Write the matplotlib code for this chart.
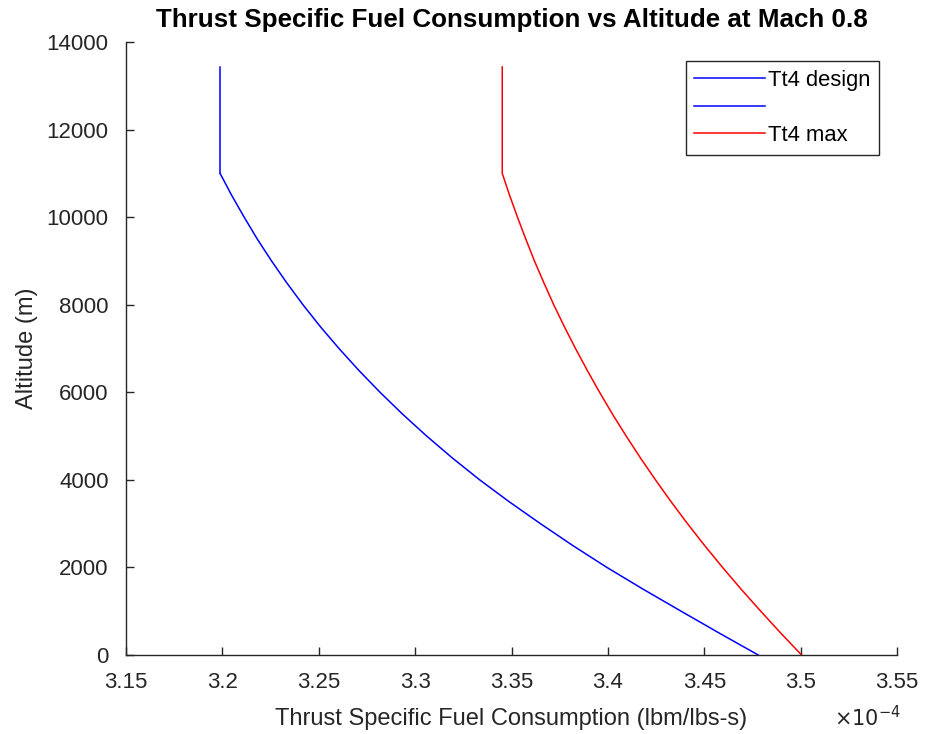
import matplotlib
matplotlib.use("Agg")
import matplotlib.pyplot as plt
from matplotlib.ticker import FuncFormatter, MultipleLocator

# altitudes in metres, TSFC in units of 1e-4 lbm/lbs-s
alt_tropo = [0, 500, 1000, 1500, 2000, 2500, 3000, 3500, 4000, 4500, 5000, 5500,
             6000, 6500, 7000, 7500, 8000, 8500, 9000, 9500, 10000, 10500, 11000]
tsfc_design_tropo = [3.4780, 3.4578, 3.4380, 3.4184, 3.3995, 3.3818, 3.3650, 3.3488,
                     3.3335, 3.3193, 3.3060, 3.2935, 3.2818, 3.2708, 3.2605, 3.2508,
                     3.2418, 3.2334, 3.2255, 3.2181, 3.2113, 3.2048, 3.1988]
alt_strato = [11000, 12000, 13000, 13430]
tsfc_design_strato = [3.1988, 3.1988, 3.1988, 3.1988]

alt_max = alt_tropo + alt_strato[1:]
tsfc_max = [3.5005, 3.4897, 3.4793, 3.4692, 3.4595, 3.4502, 3.4413, 3.4328,
            3.4247, 3.4169, 3.4095, 3.4024, 3.3957, 3.3893, 3.3832, 3.3774,
            3.3719, 3.3668, 3.3619, 3.3574, 3.3531, 3.3490, 3.3452,
            3.3452, 3.3452, 3.3452]

plt.rcParams['font.family'] = ['Liberation Sans', 'DejaVu Sans']

grey = (0.15, 0.15, 0.15)
fig = plt.figure(figsize=(9.27, 7.34), dpi=100)
ax = fig.add_axes([126 / 927, 1 - 655 / 734, (897 - 126) / 927, (655 - 42) / 734])

ax.plot(tsfc_design_tropo, alt_tropo, color='b', lw=1.1, label='Tt4 design')
ax.plot(tsfc_design_strato, alt_strato, color='b', lw=1.1, label=' ')
ax.plot(tsfc_max, alt_max, color='r', lw=1.1, label='Tt4 max')

ax.set_xlim(3.15, 3.55)
ax.set_ylim(0, 14000)
ax.xaxis.set_major_locator(MultipleLocator(0.05))
ax.yaxis.set_major_locator(MultipleLocator(2000))
ax.xaxis.set_major_formatter(FuncFormatter(lambda v, p: f"{round(v, 4):g}"))
ax.yaxis.set_major_formatter(FuncFormatter(lambda v, p: f"{v:g}"))

for s in ['top', 'right']:
    ax.spines[s].set_visible(False)
for s in ['left', 'bottom']:
    ax.spines[s].set_color(grey)
    ax.spines[s].set_linewidth(1.0)
ax.tick_params(direction='in', length=6, width=1.0, colors=grey, labelsize=16)
ax.tick_params(axis='x', pad=12)
ax.tick_params(axis='y', pad=12.5)

ax.set_title('Thrust Specific Fuel Consumption vs Altitude at Mach 0.8',
             fontsize=18.7, fontweight='bold', pad=11)
ax.set_xlabel('Thrust Specific Fuel Consumption (lbm/lbs-s)', fontsize=17, color=grey, labelpad=11)
ax.set_ylabel('Altitude (m)', fontsize=17, color=grey, labelpad=6)
fig.text(867 / 927, 1 - 718 / 734, r'$\times10^{-4}$', fontsize=15, color=grey,
         ha='center', va='center')

leg = ax.legend(loc='upper right', bbox_to_anchor=(879 / 927, 1 - 61 / 734),
                bbox_transform=fig.transFigure, borderaxespad=0, fontsize=15.8,
                fancybox=False, framealpha=1, edgecolor=grey, handlelength=3.2,
                labelspacing=0.3, handletextpad=0.15, borderpad=0.4)
leg.get_frame().set_linewidth(1.0)

fig.savefig('out.png', dpi=100)
